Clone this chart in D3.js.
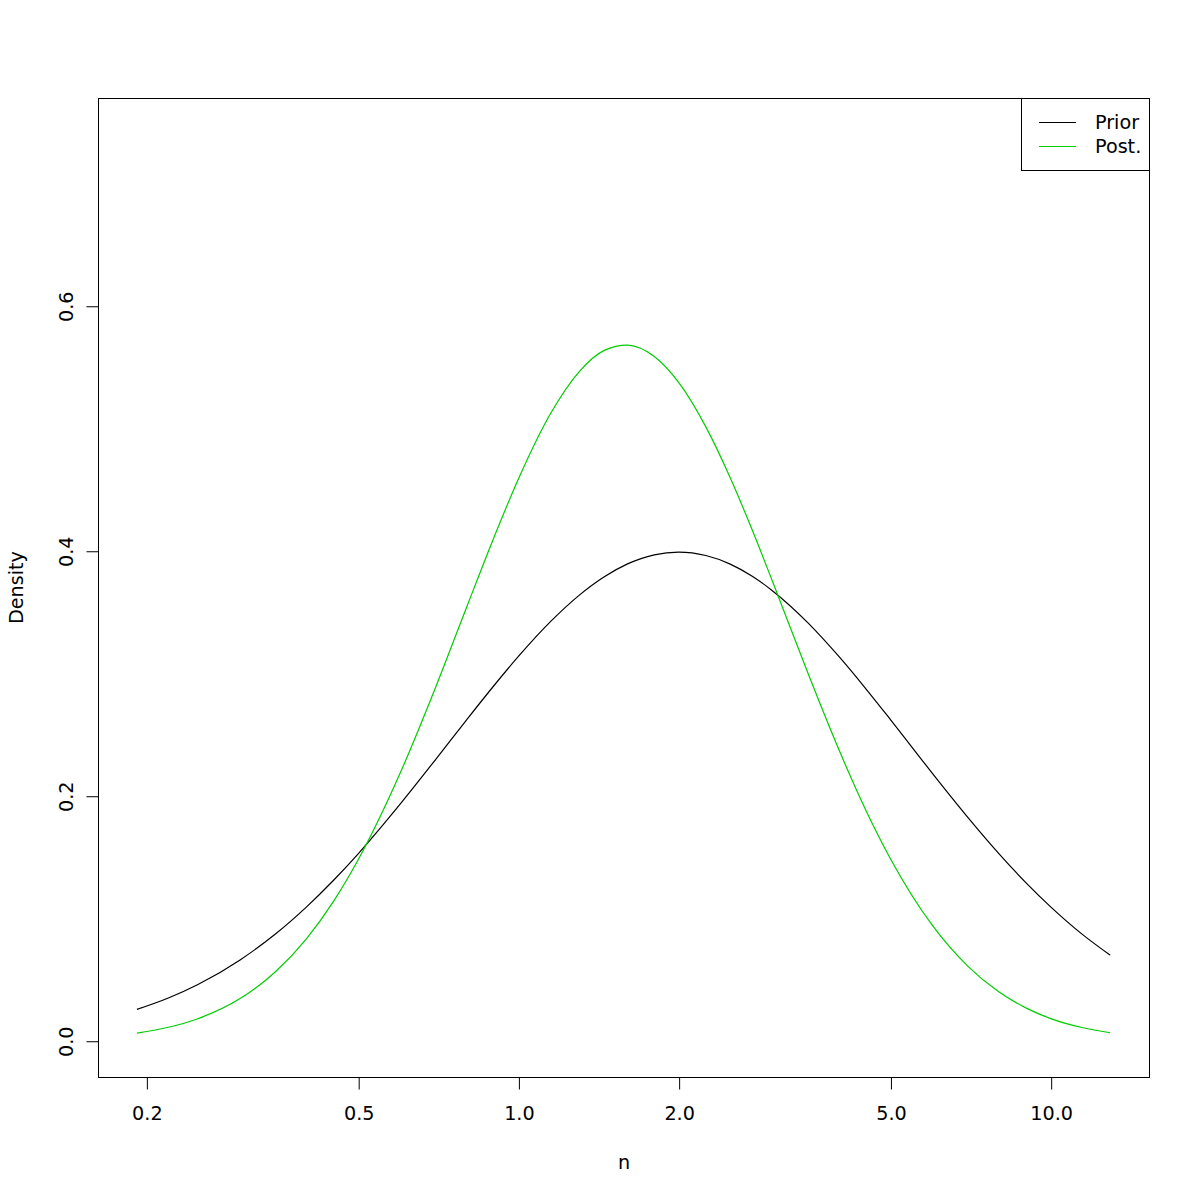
<!DOCTYPE html>
<html>
<head>
<meta charset="utf-8">
<script src="https://d3js.org/d3.v7.min.js"></script>
<style>
  body { margin: 0; background: #fff; }
  svg { display: block; font-family: "DejaVu Sans", sans-serif; }
</style>
</head>
<body>
<svg id="chart" width="1200" height="1200"></svg>
<script>
// ---- data ----
const nValues = [0.192, 0.22, 0.25, 0.3, 0.35, 0.4, 0.45, 0.5, 0.6, 0.7, 0.8, 0.9, 1.0, 1.15, 1.3, 1.45, 1.6, 1.8, 2.0, 2.25, 2.5, 2.75, 3.0, 3.5, 4.0, 4.5, 5.0, 6.0, 7.0, 8.0, 9.0, 10.0, 11.5, 12.93];
const priorDensity = [0.0256, 0.0349, 0.0459, 0.0660, 0.0873, 0.1093, 0.1312, 0.1526, 0.1933, 0.2299, 0.2622, 0.2900, 0.3137, 0.3423, 0.3636, 0.3788, 0.3891, 0.3967, 0.3989, 0.3961, 0.3891, 0.3792, 0.3674, 0.3411, 0.3137, 0.2871, 0.2622, 0.2181, 0.1820, 0.1526, 0.1287, 0.1093, 0.0864, 0.0699];
const postDensity = [0.0062, 0.0110, 0.0180, 0.0344, 0.0565, 0.0834, 0.1142, 0.1478, 0.2188, 0.2892, 0.3543, 0.4111, 0.4586, 0.5122, 0.5461, 0.5636, 0.5679, 0.5586, 0.5374, 0.5011, 0.4596, 0.4169, 0.3753, 0.3000, 0.2377, 0.1878, 0.1486, 0.0939, 0.0605, 0.0397, 0.0266, 0.0181, 0.0106, 0.0065];
const xTicks = [0.2, 0.5, 1.0, 2.0, 5.0, 10.0];
const yTicks = [0.0, 0.2, 0.4, 0.6];
const seriesNames = ["Prior", "Post."];
const seriesColors = ["#000000", "#00CD00"];

// ---- layout ----
const svg = d3.select("#chart");
const plot = { left: 98, right: 1149, top: 98, bottom: 1077 };

const xDomLog = [Math.log10(0.192), Math.log10(12.93)];
const xpad = (xDomLog[1] - xDomLog[0]) * 0.04;
const x = d3.scaleLog()
  .domain([Math.pow(10, xDomLog[0] - xpad), Math.pow(10, xDomLog[1] + xpad)])
  .range([plot.left, plot.right]);
const yLim = [0, 0.74];
const ypad = (yLim[1] - yLim[0]) * 0.04;
const y = d3.scaleLinear()
  .domain([yLim[0] - ypad, yLim[1] + ypad])
  .range([plot.bottom, plot.top]);

const fontSize = 19.2;

// box
svg.append("rect")
  .attr("x", plot.left + 0.5).attr("y", plot.top + 0.5)
  .attr("width", plot.right - plot.left).attr("height", plot.bottom - plot.top)
  .attr("fill", "none").attr("stroke", "#000").attr("stroke-width", 1);

// curves
const line = d3.line()
  .x(d => x(d[0]))
  .y(d => y(d[1]))
  .curve(d3.curveMonotoneX);

[priorDensity, postDensity].forEach((vals, i) => {
  svg.append("path")
    .datum(nValues.map((n, j) => [n, vals[j]]))
    .attr("d", line)
    .attr("fill", "none")
    .attr("stroke", seriesColors[i])
    .attr("stroke-width", 1.2);
});

// x axis
const xAxis = d3.axisBottom(x)
  .tickValues(xTicks)
  .tickFormat(d3.format(".1f"))
  .tickSize(12)
  .tickPadding(17)
  .tickSizeOuter(0);
const gx = svg.append("g")
  .attr("transform", `translate(0.5,${plot.bottom + 0.5})`)
  .call(xAxis);
gx.select(".domain").remove();
gx.selectAll("text").attr("font-size", fontSize).attr("font-family", "DejaVu Sans, sans-serif").attr("fill", "#000");
gx.selectAll("line").attr("stroke", "#000");

// y axis
const yAxis = d3.axisLeft(y)
  .tickValues(yTicks)
  .tickFormat(d3.format(".1f"))
  .tickSize(12)
  .tickSizeOuter(0);
const gy = svg.append("g")
  .attr("transform", `translate(${plot.left + 0.5},0.5)`)
  .call(yAxis);
gy.select(".domain").remove();
gy.selectAll("line").attr("stroke", "#000");
gy.selectAll("text")
  .attr("font-size", fontSize)
  .attr("font-family", "DejaVu Sans, sans-serif")
  .attr("fill", "#000")
  .attr("x", null).attr("dy", null)
  .attr("text-anchor", "middle")
  .attr("transform", "translate(-26,0) rotate(-90)");

// axis titles
svg.append("text")
  .attr("x", 624).attr("y", 1169)
  .attr("text-anchor", "middle")
  .attr("font-size", fontSize)
  .text("n");
svg.append("text")
  .attr("transform", `translate(23,${(plot.top + plot.bottom) / 2}) rotate(-90)`)
  .attr("text-anchor", "middle")
  .attr("font-size", fontSize)
  .text("Density");

// legend
const lg = svg.append("g");
lg.append("rect")
  .attr("x", 1021.5).attr("y", plot.top + 0.5)
  .attr("width", plot.right - 1021).attr("height", 72)
  .attr("fill", "#fff").attr("stroke", "#000");
seriesNames.forEach((name, i) => {
  const yy = 122 + i * 24;
  lg.append("line")
    .attr("x1", 1039).attr("x2", 1076)
    .attr("y1", yy + 0.5).attr("y2", yy + 0.5)
    .attr("stroke", seriesColors[i]).attr("stroke-width", 1.2);
  lg.append("text")
    .attr("x", 1095).attr("y", yy + 7)
    .attr("font-size", fontSize)
    .text(name);
});
</script>
</body>
</html>
